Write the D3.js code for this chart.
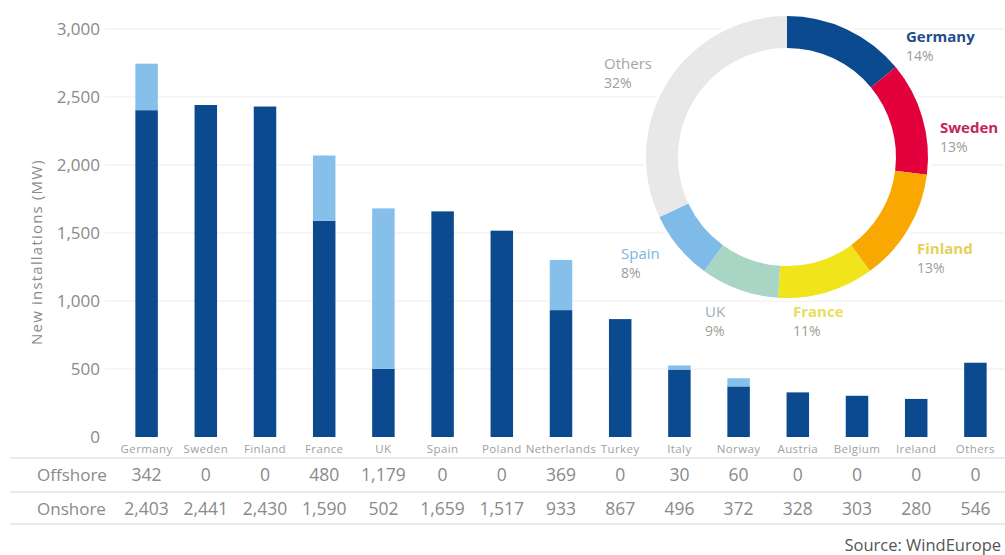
<!DOCTYPE html>
<html>
<head>
<meta charset="utf-8">
<script src="https://cdn.jsdelivr.net/npm/d3@7/dist/d3.min.js"></script>
<style>
  html, body { margin: 0; padding: 0; background: #fff; }
  svg { display: block; font-family: "Open Sans", "DejaVu Sans", sans-serif; }
</style>
</head>
<body>
<svg id="chart" width="1005" height="555"></svg>
<script>
// ---- data ----
const categories = ["Germany","Sweden","Finland","France","UK","Spain","Poland","Netherlands","Turkey","Italy","Norway","Austria","Belgium","Ireland","Others"];
const onshore  = [2403, 2441, 2430, 1590, 502, 1659, 1517, 933, 867, 496, 372, 328, 303, 280, 546];
const offshore = [342, 0, 0, 480, 1179, 0, 0, 369, 0, 30, 60, 0, 0, 0, 0];
const yTicks = [0, 500, 1000, 1500, 2000, 2500, 3000];
const rowLabels = ["Offshore", "Onshore"];

const pieNames  = ["Germany","Sweden","Finland","France","UK","Spain","Others"];
const pieShares = [14, 13, 13, 11, 9, 8, 32];

// ---- styles / layout (not data) ----
const darkBlue = "#0b4a8f", lightBlue = "#86c0ea";
const pieColors = ["#0b4a8f","#e2003d","#f8a800","#f1e41a","#a9d6c4","#7fbbe8","#e8e8e8"];
const labelColors = ["#1f4e8c","#c4245e","#e6cf5a","#e9dd5c","#a3adb5","#7ab6df","#a5a5a5"];
const labelPos = {
  Germany:[906,42], Sweden:[940,133], Finland:[917,254], France:[793,317],
  UK:[705,317], Spain:[621,259], Others:[604,69]
};

const svg = d3.select("#chart");
const W = 1005;

const x = d3.scaleBand().domain(categories).range([117, 1005])
  .paddingInner(0.62).paddingOuter(0.31);
const y = d3.scaleLinear().domain([0, 3000]).range([437, 29]);

// gridlines
svg.append("g").selectAll("line").data(yTicks.filter(d => d > 0)).join("line")
  .attr("x1", 105).attr("x2", W)
  .attr("y1", d => y(d)).attr("y2", d => y(d))
  .attr("stroke", "#ececec").attr("stroke-width", 1);

// y axis labels
const yAxis = d3.axisLeft(y).tickValues(yTicks).tickFormat(d3.format(",")).tickSize(0).tickPadding(0);
const ga = svg.append("g").attr("transform", "translate(100,0)").call(yAxis);
ga.select(".domain").remove();
ga.selectAll("text").attr("fill", "#8a8a8a").style("font-size", "17px")
  .style("font-family", "'Open Sans', sans-serif");

svg.append("text").attr("transform", "translate(42,252) rotate(-90)")
  .attr("text-anchor", "middle").attr("fill", "#8a8a8a").style("font-size", "15px")
  .style("letter-spacing", "1.2px")
  .text("New installations (MW)");

// bars
const stacked = categories.map((c, i) => ({c, on: onshore[i], off: offshore[i]}));
svg.append("g").selectAll("rect").data(stacked).join("rect")
  .attr("x", d => x(d.c)).attr("width", x.bandwidth())
  .attr("y", d => y(d.on)).attr("height", d => y(0) - y(d.on))
  .attr("fill", darkBlue);
svg.append("g").selectAll("rect").data(stacked.filter(d => d.off > 0)).join("rect")
  .attr("x", d => x(d.c)).attr("width", x.bandwidth())
  .attr("y", d => y(d.on + d.off)).attr("height", d => y(d.on) - y(d.on + d.off))
  .attr("fill", lightBlue);

// category labels
const xAxis = d3.axisBottom(x).tickSize(0).tickPadding(0);
const gx = svg.append("g").attr("transform", "translate(0,445)").call(xAxis);
gx.select(".domain").remove();
gx.selectAll("text").attr("fill", "#a0a0a0").style("font-size", "11.5px")
  .style("letter-spacing", "0.4px")
  .style("font-family", "'Open Sans', sans-serif");

// table
const tableLines = [458, 492, 524];
svg.append("g").selectAll("line").data(tableLines).join("line")
  .attr("x1", 10).attr("x2", W).attr("y1", d => d).attr("y2", d => d)
  .attr("stroke", "#d8d8d8").attr("stroke-width", 1.2);

const rows = [offshore, onshore];
const rowY = [481, 515];
rows.forEach((vals, r) => {
  svg.append("text").attr("x", 37).attr("y", rowY[r]).attr("fill", "#8a8a8a")
    .style("font-size", "17px").text(rowLabels[r]);
  svg.append("g").selectAll("text").data(vals).join("text")
    .attr("x", (d, i) => x(categories[i]) + x.bandwidth() / 2)
    .attr("y", rowY[r]).attr("text-anchor", "middle")
    .attr("fill", "#8a8a8a").style("font-size", "17.5px")
    .text(d => d3.format(",")(d));
});

svg.append("text").attr("x", 1001).attr("y", 551).attr("text-anchor", "end")
  .attr("fill", "#555").style("font-size", "16.5px").text("Source: WindEurope");

// donut
const cx = 787, cy = 157, rOut = 141, rIn = 109;
const dg = svg.append("g").attr("transform", `translate(${cx},${cy})`);
dg.append("circle").attr("r", rOut + 3).attr("fill", "#fff");
const pie = d3.pie().sort(null).value(d => d.v);
const arcs = pie(pieNames.map((n, i) => ({n, v: pieShares[i], i})));
const arc = d3.arc().innerRadius(rIn).outerRadius(rOut);
dg.selectAll("path").data(arcs).join("path")
  .attr("d", arc).attr("fill", d => pieColors[d.data.i]);

pieNames.forEach((n, i) => {
  const [lx, ly] = labelPos[n];
  svg.append("text").attr("x", lx).attr("y", ly).attr("fill", labelColors[i])
    .style("font-size", "15px").style("font-weight", (i < 4) ? "bold" : "normal").text(n);
  svg.append("text").attr("x", lx).attr("y", ly + 19).attr("fill", "#a09c96")
    .style("font-size", "14px").text(pieShares[i] + "%");
});
</script>
</body>
</html>
